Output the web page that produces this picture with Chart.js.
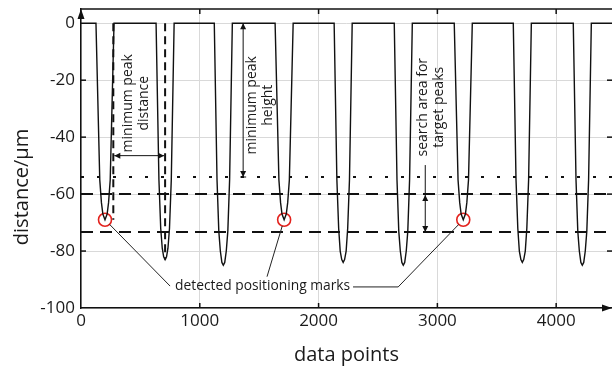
<!DOCTYPE html>
<html>
<head>
<meta charset="utf-8">
<script src="https://cdn.jsdelivr.net/npm/chart.js@4.4.1/dist/chart.umd.min.js"></script>
<style>
  html, body { margin: 0; padding: 0; background: #fff; }
  #wrap { width: 612px; height: 369px; }
</style>
</head>
<body>
<div id="wrap"><canvas id="myChart" width="612" height="369"></canvas></div>
<script>
// measured profile (data points vs distance in µm)
const signalX = [0,
  126, 158, 172, 184, 202, 220, 232, 246, 278,
  632, 656, 671, 684, 696, 708, 720, 732, 745, 760, 784,
  1122, 1145, 1160, 1173, 1186, 1198, 1210, 1223, 1236, 1251, 1274,
  1634, 1666, 1680, 1692, 1710, 1728, 1740, 1754, 1786,
  2131, 2154, 2169, 2182, 2195, 2207, 2219, 2232, 2245, 2260, 2283,
  2637, 2660, 2675, 2688, 2701, 2713, 2725, 2738, 2751, 2766, 2789,
  3142, 3174, 3188, 3200, 3218, 3236, 3248, 3262, 3294,
  3639, 3662, 3677, 3690, 3703, 3715, 3727, 3740, 3753, 3768, 3791,
  4144, 4167, 4182, 4195, 4208, 4220, 4232, 4245, 4258, 4273, 4296,
  4470];
const signalY = [0,
  0, -55, -63, -67, -69, -67, -63, -55, 0,
  0, -55, -72, -79, -82, -83, -82, -79, -72, -55, 0,
  0, -55, -73, -80, -84, -85, -84, -80, -73, -55, 0,
  0, -55, -63, -67, -69, -67, -63, -55, 0,
  0, -55, -72, -80, -83, -84, -83, -80, -72, -55, 0,
  0, -55, -73, -80, -84, -85, -84, -80, -73, -55, 0,
  0, -55, -63, -67, -69, -67, -63, -55, 0,
  0, -55, -72, -80, -83, -84, -83, -80, -72, -55, 0,
  0, -55, -73, -80, -84, -85, -84, -80, -73, -55, 0,
  0];

// detected positioning marks
const markX = [202, 1710, 3218];
const markY = [-69, -69, -69];

// thresholds
const minPeakHeight = -54;
const searchTop = -60;
const searchBottom = -73.3;
const distanceX = [272, 708];
const distanceBottom = [-69, -83];

const xRange = [0, 4470];
const yRange = [-100, 5];
const xTicks = [0, 1000, 2000, 3000, 4000];
const yTicks = [-100, -80, -60, -40, -20, 0];

const FONT = "'Open Sans', 'DejaVu Sans', sans-serif";
const INK = '#111';

function hline(v, dash) {
  return {
    data: [{x: xRange[0], y: v}, {x: xRange[1], y: v}],
    borderColor: INK, borderWidth: 2, borderDash: dash,
    pointRadius: 0, tension: 0
  };
}
function vline(xv, bottom) {
  return {
    data: [{x: xv, y: 0}, {x: xv, y: bottom}],
    borderColor: INK, borderWidth: 2, borderDash: [8, 5],
    pointRadius: 0, tension: 0
  };
}

const annotate = {
  id: 'annotate',
  afterDraw(chart) {
    const {ctx, chartArea: a} = chart;
    const X = v => chart.scales.x.getPixelForValue(v);
    const Y = v => chart.scales.y.getPixelForValue(v);
    const line = (x1, y1, x2, y2) => { ctx.beginPath(); ctx.moveTo(x1, y1); ctx.lineTo(x2, y2); ctx.stroke(); };
    const head = (x, y, ang, len, hw) => {
      ctx.save(); ctx.translate(x, y); ctx.rotate(ang);
      ctx.beginPath(); ctx.moveTo(0, 0); ctx.lineTo(-len, -hw); ctx.lineTo(-len, hw); ctx.closePath(); ctx.fill();
      ctx.restore();
    };
    const vtext = (px, py, lines, size) => {
      ctx.save();
      ctx.translate(px, py); ctx.rotate(-Math.PI / 2);
      ctx.font = size + 'px ' + FONT; ctx.textAlign = 'center'; ctx.textBaseline = 'middle';
      const gap = size * 1.1;
      lines.forEach((t, i) => ctx.fillText(t, 0, (i - (lines.length - 1) / 2) * gap));
      ctx.restore();
    };

    ctx.save();
    ctx.strokeStyle = INK; ctx.fillStyle = INK; ctx.lineWidth = 1.5;
    // frame top + inner ticks
    line(a.left, a.top, a.right, a.top);
    xTicks.slice(1).forEach(v => { line(X(v), a.top, X(v), a.top + 5); line(X(v), a.bottom, X(v), a.bottom - 5); });
    yTicks.slice(1, -1).forEach(v => { line(a.left, Y(v), a.left + 5, Y(v)); line(a.right, Y(v), a.right - 5, Y(v)); });
    // axis arrows
    head(a.left, a.top, -Math.PI / 2, 10, 3.5);
    head(a.right, a.bottom, 0, 10, 3.5);

    // y axis title
    ctx.fillStyle = '#1a1a1a';
    vtext(22, 187, ['distance/µm'], 20);

    ctx.fillStyle = INK;
    ctx.lineWidth = 1;
    // minimum peak distance
    const yd = Y(-46.5);
    line(X(distanceX[0]) + 1, yd, X(distanceX[1]) - 1, yd);
    head(X(distanceX[0]) + 1, yd, Math.PI, 6, 3);
    head(X(distanceX[1]) - 1, yd, 0, 6, 3);
    // minimum peak height
    const xh = X(1365);
    line(xh, Y(0), xh, Y(minPeakHeight));
    head(xh, Y(0), -Math.PI / 2, 6, 3);
    head(xh, Y(minPeakHeight), Math.PI / 2, 6, 3);
    line(xh - 3, Y(minPeakHeight), xh + 3, Y(minPeakHeight));
    // search area
    const xs = X(2898);
    line(xs, Y(-49.8), xs, Y(searchBottom));
    head(xs, Y(searchTop) + 1, -Math.PI / 2, 6, 3);
    head(xs, Y(searchBottom), Math.PI / 2, 6, 3);

    ctx.fillStyle = '#1a1a1a';
    vtext(X(463), Y(-28.1), ['minimum peak', 'distance'], 14);
    vtext(X(1507), Y(-28.8), ['minimum peak', 'height'], 14);
    vtext(X(2947), Y(-29.5), ['search area for', 'target peaks'], 14);

    // detected positioning marks
    ctx.font = '13.8px ' + FONT; ctx.textAlign = 'left'; ctx.textBaseline = 'middle';
    ctx.fillText('detected positioning marks', X(792), Y(-92.3));
    ctx.strokeStyle = '#222';
    const ends = [[750, -92.3], [1566, -89], [2670, -92.6]];
    markX.forEach((mx, i) => {
      const cx = X(mx), cy = Y(markY[i]);
      const ex = X(ends[i][0]), ey = Y(ends[i][1]);
      const d = Math.hypot(ex - cx, ey - cy);
      line(cx + (ex - cx) / d * 6.5, cy + (ey - cy) / d * 6.5, ex, ey);
    });
    line(X(2670), Y(-92.6), X(2290), Y(-92.6));
    ctx.restore();
  }
};

new Chart(document.getElementById('myChart').getContext('2d'), {
  type: 'line',
  data: {
    datasets: [
      {
        data: signalX.map((x, i) => ({x, y: signalY[i]})),
        borderColor: INK, borderWidth: 1.4, pointRadius: 0, tension: 0
      },
      hline(minPeakHeight, [3, 13]),
      hline(searchTop, [12, 7]),
      hline(searchBottom, [12, 7]),
      vline(distanceX[0], distanceBottom[0]),
      vline(distanceX[1], distanceBottom[1]),
      {
        data: markX.map((x, i) => ({x, y: markY[i]})),
        showLine: false, pointRadius: 6.5, pointHoverRadius: 6.5,
        pointBorderColor: '#e3211c', pointBackgroundColor: 'rgba(0,0,0,0)', pointBorderWidth: 1.6
      }
    ]
  },
  options: {
    responsive: false,
    animation: false,
    devicePixelRatio: 1,
    layout: { autoPadding: false, padding: { top: 9, right: 0, left: 0, bottom: 0 } },
    plugins: { legend: { display: false }, tooltip: { enabled: false } },
    scales: {
      x: {
        type: 'linear', min: xRange[0], max: xRange[1],
        afterBuildTicks: s => { s.ticks = xTicks.map(v => ({value: v})); },
        afterFit: s => { s.height = 61; s.paddingLeft = 0; s.paddingRight = 0; },
        ticks: { font: { family: FONT, size: 17 }, color: '#1a1a1a', padding: 3, maxRotation: 0, callback: v => String(v) },
        grid: { color: '#d9d9d9', drawTicks: false },
        border: { color: INK, width: 1.5 },
        title: { display: true, text: 'data points', font: { family: FONT, size: 20 }, color: '#1a1a1a', padding: { top: 0, bottom: 2 } }
      },
      y: {
        type: 'linear', min: yRange[0], max: yRange[1],
        afterBuildTicks: s => { s.ticks = yTicks.map(v => ({value: v})); },
        afterFit: s => { s.width = 81; s.paddingTop = 0; s.paddingBottom = 0; },
        ticks: { font: { family: FONT, size: 17 }, color: '#1a1a1a', padding: 6 },
        grid: { color: '#d9d9d9', drawTicks: false },
        border: { color: INK, width: 1.5 }
      }
    }
  },
  plugins: [annotate]
});
</script>
</body>
</html>
